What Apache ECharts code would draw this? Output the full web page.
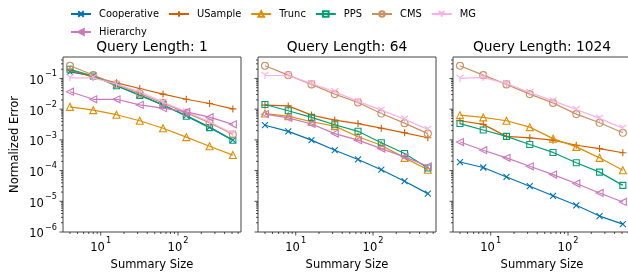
<!DOCTYPE html>
<html>
<head>
<meta charset="utf-8">
<script src="https://cdn.jsdelivr.net/npm/echarts@6/dist/echarts.min.js"></script>
<style>
  html, body { margin: 0; padding: 0; background: #fff; }
  #chart { width: 628px; height: 274px; }
</style>
</head>
<body>
<div id="chart"></div>
<script>
// Summary sizes shared by all panels
const sizes = [4, 8, 16, 32, 64, 128, 256, 512];
const methods = ['Cooperative', 'USample', 'Trunc', 'PPS', 'CMS', 'MG', 'Hierarchy'];
const panelTitles = ['Query Length: 1', 'Query Length: 64', 'Query Length: 1024'];

// Query length 1
const q1Cooperative = [0.165, 0.12, 0.058, 0.029, 0.0135, 0.0062, 0.0026, 0.00098];
const q1USample     = [0.19, 0.11, 0.072, 0.047, 0.031, 0.021, 0.0153, 0.0102];
const q1Trunc       = [0.0119, 0.0093, 0.0066, 0.0042, 0.0024, 0.00123, 0.00062, 0.00032];
const q1PPS         = [0.2, 0.12, 0.058, 0.028, 0.0138, 0.0059, 0.0025, 0.00097];
const q1CMS         = [0.26, 0.13, 0.065, 0.032, 0.016, 0.0076, 0.0036, 0.0015];
const q1MG          = [0.105, 0.105, 0.065, 0.037, 0.017, 0.0082, 0.0039, 0.0016];
const q1Hierarchy   = [0.037, 0.021, 0.021, 0.0138, 0.0108, 0.0082, 0.0055, 0.0032];

// Query length 64
const q64Cooperative = [0.003, 0.0019, 0.00098, 0.00046, 0.00023, 0.000107, 0.000045, 0.0000178];
const q64USample     = [0.0135, 0.0128, 0.0064, 0.0044, 0.0034, 0.0024, 0.0017, 0.00117];
const q64Trunc       = [0.0072, 0.0059, 0.0039, 0.0028, 0.00126, 0.00067, 0.00026, 0.000107];
const q64PPS         = [0.0142, 0.0089, 0.0054, 0.0031, 0.0019, 0.00081, 0.00036, 0.000122];
const q64CMS         = [0.26, 0.128, 0.064, 0.031, 0.0165, 0.0072, 0.0035, 0.0016];
const q64MG          = [0.125, 0.125, 0.068, 0.037, 0.018, 0.0093, 0.0047, 0.0022];
const q64Hierarchy   = [0.0069, 0.0052, 0.0033, 0.0016, 0.00098, 0.00052, 0.00028, 0.000138];

// Query length 1024
const q1024Cooperative = [0.00019, 0.000126, 0.000062, 0.000031, 0.0000151, 0.0000074, 0.0000033, 0.0000018];
const q1024USample     = [0.0042, 0.0032, 0.0013, 0.00117, 0.00098, 0.00067, 0.00052, 0.00038];
const q1024Trunc       = [0.0064, 0.0054, 0.0042, 0.0026, 0.0011, 0.00059, 0.00026, 0.000102];
const q1024PPS         = [0.0034, 0.0021, 0.0013, 0.00071, 0.00039, 0.00018, 0.000089, 0.000033];
const q1024CMS         = [0.26, 0.128, 0.064, 0.031, 0.016, 0.0069, 0.0036, 0.0017];
const q1024MG          = [0.1, 0.108, 0.068, 0.035, 0.0187, 0.0098, 0.005, 0.0024];
const q1024Hierarchy   = [0.00085, 0.00046, 0.00026, 0.000138, 0.000074, 0.000038, 0.0000187, 0.0000095];

const panels = [
  [q1Cooperative, q1USample, q1Trunc, q1PPS, q1CMS, q1MG, q1Hierarchy],
  [q64Cooperative, q64USample, q64Trunc, q64PPS, q64CMS, q64MG, q64Hierarchy],
  [q1024Cooperative, q1024USample, q1024Trunc, q1024PPS, q1024CMS, q1024MG, q1024Hierarchy]
];

// axis ticks
const xMajorTicks = [10, 100];
const yMajorTicks = [1e-6, 1e-5, 1e-4, 1e-3, 1e-2, 1e-1];

const X_MIN = 3.25, X_MAX = 653;
const Y_MIN = 1e-6, Y_MAX = 0.5;

const xMinorTicks = [];
[1, 10, 100].forEach(d => { for (let k = 2; k <= 9; k++) { const v = k * d; if (v > X_MIN && v < X_MAX) xMinorTicks.push(v); } });
const yMinorTicks = [];
yMajorTicks.forEach(d => { for (let k = 2; k <= 9; k++) { const v = k * d; if (v < Y_MAX) yMinorTicks.push(v); } });

const colors = {
  Cooperative: '#0173b2', USample: '#d55e00', Trunc: '#de8f05', PPS: '#029e73',
  CMS: '#ca9161', MG: '#fbafe4', Hierarchy: '#cc78bc'
};
const symbols = {
  Cooperative: 'path://M0,0L10,10M10,0L0,10',
  USample: 'path://M5,0L5,10M0,5L10,5',
  Trunc: 'triangle',
  PPS: 'rect',
  CMS: 'circle',
  MG: 'path://M5,5L5,10M5,5L0,2M5,5L10,2',
  Hierarchy: 'path://M0,5L10,0L10,10Z'
};
const symbolSizes = { Cooperative: 6, USample: 7, Trunc: 7, PPS: 6, CMS: 7, MG: 7, Hierarchy: 7 };

const FONT = 'DejaVu Sans';
const gridLefts = [63, 258, 453];
const GRID_TOP = 57, GRID_W = 178, GRID_H = 175;

function supLabel(v) {
  const e = Math.log10(v);
  const r = Math.round(e);
  if (Math.abs(e - r) > 1e-6) return '';
  return '{b|10}{s|' + (r < 0 ? '\u2212' + (-r) : r) + '}';
}
const richSup = {
  b: { fontSize: 11.5, fontFamily: FONT, color: '#000', lineHeight: 17, verticalAlign: 'bottom' },
  s: { fontSize: 8.2, fontFamily: FONT, color: '#000', verticalAlign: 'top', padding: [0, 0, 0, 1] }
};

function renderTick(params, api) {
  const p = api.coord([api.value(0), api.value(1)]);
  const kind = api.value(2); // 0 x major, 1 x minor, 2 y major, 3 y minor
  const len = (kind === 0 || kind === 2) ? 3.5 : 2;
  const shape = kind < 2
    ? { x1: p[0], y1: p[1], x2: p[0], y2: p[1] + len }
    : { x1: p[0], y1: p[1], x2: p[0] - len, y2: p[1] };
  return { type: 'line', shape: shape, style: { stroke: '#222', lineWidth: 0.8 }, silent: true };
}

const tickData = []
  .concat(xMajorTicks.map(v => [v, Y_MIN, 0]))
  .concat(xMinorTicks.map(v => [v, Y_MIN, 1]))
  .concat(yMajorTicks.map(v => [X_MIN, v, 2]))
  .concat(yMinorTicks.map(v => [X_MIN, v, 3]));

const grid = [], xAxis = [], yAxis = [], series = [], graphic = [];

panels.forEach((rows, pi) => {
  grid.push({
    left: gridLefts[pi], top: GRID_TOP, width: GRID_W, height: GRID_H,
    show: true, borderColor: '#444', borderWidth: 1, backgroundColor: 'transparent',
    outerBoundsMode: 'none'
  });
  xAxis.push({
    type: 'log', gridIndex: pi, min: X_MIN, max: X_MAX, logBase: 10,
    name: 'Summary Size', nameLocation: 'middle', nameGap: 21,
    nameTextStyle: { fontFamily: FONT, fontSize: 11.5, color: '#000' },
    axisLine: { show: false }, axisTick: { show: false }, splitLine: { show: false },
    axisLabel: { margin: 5, formatter: supLabel, rich: richSup, showMinLabel: true, showMaxLabel: true, hideOverlap: false }
  });
  yAxis.push({
    type: 'log', gridIndex: pi, min: Y_MIN, max: Y_MAX, logBase: 10,
    name: pi === 0 ? 'Normalized Error' : '', nameLocation: 'middle', nameGap: 42,
    nameTextStyle: { fontFamily: FONT, fontSize: 11.5, color: '#000' },
    axisLine: { show: false }, axisTick: { show: false }, splitLine: { show: false },
    axisLabel: { show: pi === 0, margin: 6, formatter: supLabel, rich: richSup, hideOverlap: false }
  });
  graphic.push({
    type: 'text', x: gridLefts[pi] + GRID_W / 2, y: 47,
    style: { text: panelTitles[pi], font: '13.8px "' + FONT + '"', fill: '#000', align: 'center', verticalAlign: 'middle' }
  });
  methods.forEach((m, mi) => {
    series.push({
      name: m, type: 'line', xAxisIndex: pi, yAxisIndex: pi,
      data: sizes.map((s, i) => [s, rows[mi][i]]),
      symbol: symbols[m], symbolSize: symbolSizes[m], showSymbol: true,
      lineStyle: { color: colors[m], width: 1.2 },
      itemStyle: { color: 'rgba(255,255,255,0)', borderColor: colors[m], borderWidth: 1.1 },
      emphasis: { disabled: true }, animation: false, z: 2 + mi
    });
  });
  series.push({
    type: 'custom', xAxisIndex: pi, yAxisIndex: pi, renderItem: renderTick,
    data: tickData, encode: { x: 0, y: 1 }, clip: false, silent: true, animation: false, z: 1
  });
});

const legendCommon = {
  orient: 'horizontal', padding: 0, itemWidth: 20, itemHeight: 7, itemGap: 9, selectedMode: false,
  textStyle: { fontFamily: FONT, fontSize: 9.9, color: '#000', padding: [0, 0, 0, 3] }
};

const option = {
  backgroundColor: '#fff',
  animation: false,
  textStyle: { fontFamily: FONT },
  legend: [
    Object.assign({ left: 70, top: 9, data: methods.slice(0, 6) }, legendCommon),
    Object.assign({ left: 70, top: 27, data: methods.slice(6) }, legendCommon)
  ],
  grid: grid, xAxis: xAxis, yAxis: yAxis, series: series, graphic: graphic
};

const chart = echarts.init(document.getElementById('chart'), null, { renderer: 'canvas' });
chart.setOption(option);
</script>
</body>
</html>
